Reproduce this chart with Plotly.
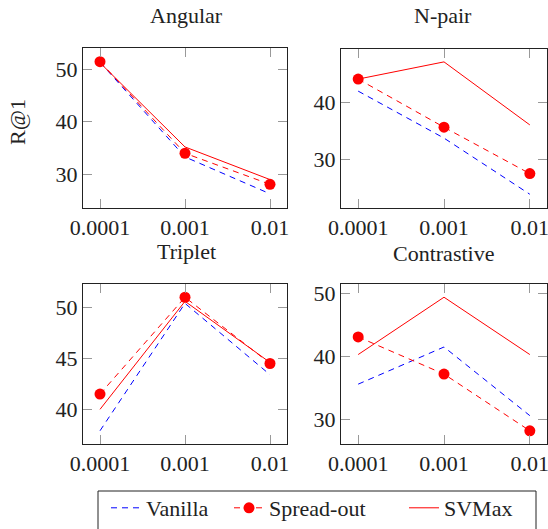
import plotly.graph_objects as go

# learning rates on the x axis
lr = [0.0001, 0.001, 0.01]
lr_labels = ["0.0001", "0.001", "0.01"]

# R@1 per loss, per regularizer
angular_vanilla = [51.3, 33.3, 26.3]
angular_spread = [51.4, 34.0, 28.1]
angular_svmax = [51.2, 35.2, 29.0]

npair_vanilla = [41.9, 33.7, 23.9]
npair_spread = [44.0, 35.6, 27.5]
npair_svmax = [44.0, 47.0, 36.0]

triplet_vanilla = [37.9, 50.4, 43.4]
triplet_spread = [41.5, 51.0, 44.5]
triplet_svmax = [40.0, 50.6, 44.6]

contrastive_vanilla = [35.6, 41.5, 30.6]
contrastive_spread = [43.1, 37.2, 28.2]
contrastive_svmax = [40.3, 49.4, 40.3]

panel_titles = ["Angular", "N-pair", "Triplet", "Contrastive"]
series_names = ["Vanilla", "Spread-out", "SVMax"]

panels = [
    (angular_vanilla, angular_spread, angular_svmax),
    (npair_vanilla, npair_spread, npair_svmax),
    (triplet_vanilla, triplet_spread, triplet_svmax),
    (contrastive_vanilla, contrastive_spread, contrastive_svmax),
]
y_ranges = [[23.6, 54.0], [21.5, 49.25], [36.6, 52.3], [26.1, 51.5]]
y_ticks = [[30, 40, 50], [30, 40], [40, 45, 50], [30, 40, 50]]

W, H = 548, 529
FONT = "'Liberation Serif', 'DejaVu Serif', serif"
BLUE = "#0000ff"
RED = "#ff0000"

# pixel boxes of each panel: (left, right, top, bottom)
boxes = [(83, 287, 48, 208), (341, 547, 49, 208), (83, 287, 284, 444), (341, 547, 284, 444)]

# each series gets its own legend so the entries can be spaced freely
legend_ids = ["legend", "legend2", "legend3"]
legend_x = [106, 229, 404]

fig = go.Figure()

for i, (vals, box) in enumerate(zip(panels, boxes)):
    ax = "" if i == 0 else str(i + 1)
    xref, yref = "x" + ax, "y" + ax
    vanilla, spread, svmax = vals
    first = i == 0
    fig.add_trace(go.Scatter(
        x=lr, y=vanilla, name=series_names[0], mode="lines",
        line=dict(color=BLUE, width=1, dash="6px,5px"),
        xaxis=xref, yaxis=yref, showlegend=first, legend=legend_ids[0]))
    fig.add_trace(go.Scatter(
        x=lr, y=spread, name=series_names[1], mode="lines+markers",
        line=dict(color=RED, width=1, dash="6px,5px"),
        marker=dict(color=RED, size=11),
        xaxis=xref, yaxis=yref, showlegend=first, legend=legend_ids[1]))
    fig.add_trace(go.Scatter(
        x=lr, y=svmax, name=series_names[2], mode="lines",
        line=dict(color=RED, width=1),
        xaxis=xref, yaxis=yref, showlegend=first, legend=legend_ids[2]))

    left, right, top, bottom = box
    common = dict(showline=True, linecolor="#222", linewidth=1, mirror="allticks",
                  ticks="inside", ticklen=9, tickcolor="#999", tickwidth=1,
                  showgrid=False, zeroline=False, ticklabeloverflow="allow",
                  tickfont=dict(family=FONT, size=22, color="#222"))
    fig.layout["xaxis" + ax] = dict(
        domain=[left / W, right / W], anchor=yref, type="log",
        range=[-4.2, -1.8], tickvals=lr, ticktext=lr_labels, **common)
    fig.layout["yaxis" + ax] = dict(
        domain=[1 - bottom / H, 1 - top / H], anchor=xref,
        range=y_ranges[i], tickvals=y_ticks[i], **common)

title_pos = [(186, 15), (443, 15), (186, 251), (443, 253)]
for t, (px, py) in zip(panel_titles, title_pos):
    fig.add_annotation(text=t, x=px / W, y=1 - py / H, xref="paper", yref="paper",
                       xanchor="center", yanchor="middle", showarrow=False,
                       font=dict(family=FONT, size=22, color="#222"))

fig.add_annotation(text="R@1", x=18 / W, y=1 - 122 / H, xref="paper", yref="paper",
                   xanchor="center", yanchor="middle", textangle=-90, showarrow=False,
                   font=dict(family=FONT, size=22, color="#222"))

# frame around the legend entries, running off the bottom edge
fig.add_shape(type="rect", xref="paper", yref="paper",
              x0=98 / W, x1=536 / W, y0=-0.05, y1=1 - 491 / H,
              line=dict(color="#222", width=1), fillcolor="rgba(0,0,0,0)")

legend_common = dict(orientation="h", xanchor="left", yanchor="bottom",
                     y=0, bgcolor="rgba(0,0,0,0)", borderwidth=0,
                     font=dict(family=FONT, size=22, color="#222"), itemwidth=30)

fig.update_layout(
    width=W, height=H, margin=dict(l=0, r=0, t=0, b=0, autoexpand=False),
    paper_bgcolor="white", plot_bgcolor="white",
    legend=dict(x=legend_x[0] / W, **legend_common),
    legend2=dict(x=legend_x[1] / W, **legend_common),
    legend3=dict(x=legend_x[2] / W, **legend_common),
)

fig.write_html("out.html")
